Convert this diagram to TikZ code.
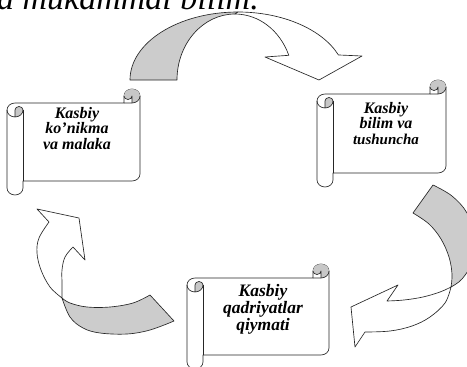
\documentclass[tikz,border=0pt]{standalone}
\usepackage{fontspec}
\setmainfont{Liberation Serif}
\tikzset{
  ln/.style={draw=black!85, line width=0.65pt, line join=round},
  greyband/.style={ln, fill=black!20},
  whiteband/.style={ln, fill=white},
  scrolltext/.style={inner sep=0pt, align=center, anchor=north, font=\bfseries\itshape\fontsize{16}{15.5}\selectfont},
}
% scroll: #1 x0, #2 y0, #3 width, #4 height
\newcommand\myscroll[4]{%
\begin{scope}[shift={(#1,#2)}]
  \pgfmathsetmacro\W{#3}\pgfmathsetmacro\H{#4}
  \path[ln, fill=white] (0,21) arc[start angle=180,end angle=270,x radius=8,y radius=7]
     -- (\W-16,14) -- (\W-16,7) arc[start angle=180,end angle=360,x radius=8,y radius=7]
     -- (\W,\H-21) arc[start angle=0,end angle=90,x radius=8,y radius=7]
     -- (16,\H-14) -- (16,\H-7) arc[start angle=0,end angle=180,x radius=8,y radius=7] -- cycle;
  \fill[black!22] (8,28) arc[start angle=90,end angle=0,x radius=8,y radius=7]
     arc[start angle=0,end angle=-180,x radius=4,y radius=3.5] -- cycle;
  \fill[black!22] (\W-8,14) arc[start angle=90,end angle=-180,x radius=8,y radius=7]
     arc[start angle=180,end angle=0,x radius=4,y radius=3.5] -- cycle;
  \draw[ln] (\W-16,14) -- (\W-8,14) arc[start angle=90,end angle=0,x radius=8,y radius=7];
  \draw[ln] (\W-8,14) -- (\W-8,7) arc[start angle=0,end angle=180,x radius=4,y radius=3.5];
  \draw[ln] (8,28) -- (8,21) arc[start angle=180,end angle=360,x radius=4,y radius=3.5]
     arc[start angle=0,end angle=180,x radius=8,y radius=7];
  \draw[ln] (16,21) -- (16,\H-14);
\end{scope}}
\begin{document}
\begin{tikzpicture}[x=1pt,y=-1pt]
\useasboundingbox (0,0) rectangle (467,367);
\clip (0,0) rectangle (467,367);
\fill[white] (0,0) rectangle (467,367);

% cut-off heading (cropped at the top edge, as in the reference)
\node[inner sep=0pt, anchor=base west, font=\itshape\fontsize{34}{34}\selectfont] (head) at (-3,9) {a mukammal bilim.};

% scrolls
\myscroll{7}{89}{133}{106}
\myscroll{317}{80}{129}{107}
\myscroll{187}{264}{142}{105}

\node[scrolltext] (sL) at (77,107) {Kasbiy\\ko’nikma\\va malaka};
\node[scrolltext] (sR) at (386,102) {Kasbiy\\bilim va\\{\fontsize{15}{15.5}\selectfont tushuncha}};
\node[scrolltext, font=\bfseries\itshape\fontsize{17.5}{17}\selectfont] (sB) at (263,284) {Kasbiy\\qadriyatlar\\qiymati};

% top arrow
\path[greyband] (130,80) arc[start angle=180,end angle=270,x radius=108,y radius=68]
   -- (235,14) arc[start angle=270,end angle=180,x radius=58,y radius=66] -- cycle;
\path[whiteband] (238,12) arc[start angle=270,end angle=338.4,x radius=108,y radius=68]
   -- (362,56) -- (319,80) -- (265,57) -- (288.8,55.3)
   arc[start angle=338,end angle=270,x radius=58,y radius=66] -- cycle;

% right arrow
\path[greyband] (413,213) -- (433,185)
   -- plot[smooth,tension=0.6] coordinates {(433,185) (452,196) (467,213) (474,236) (472,262) (462,279) (451,287)}
   -- plot[smooth,tension=0.6] coordinates {(451,287) (452,274) (449,257) (441,239) (429,224) (413,213)} -- cycle;
\path[whiteband] (451,287)
   -- plot[smooth,tension=0.6] coordinates {(451,287) (445,303) (430,317) (412,326) (390,331) (365,332)}
   -- (355,347) -- (351,307) -- (398,285) -- (387,301)
   -- plot[smooth,tension=0.6] coordinates {(387,301) (404,300) (423,297) (440,292) (451,287)} -- cycle;

% left arrow
\path[greyband] (150,295) -- (174,321)
   -- plot[smooth,tension=0.6] coordinates {(174,321) (150,330) (127,334) (100,333) (83,328) (70,317) (62,298)}
   -- plot[smooth,tension=0.6] coordinates {(62,298) (70,303) (87,307) (110,307) (133,303) (150,295)} -- cycle;
\path[whiteband] (62,298)
   -- plot[smooth,tension=0.6] coordinates {(62,298) (50,287) (41,270) (37,253) (39,238) (49,222)}
   -- (37,209) -- (79,218) -- (85,260) -- (73,247)
   -- plot[smooth,tension=0.6] coordinates {(73,247) (65,257) (62,270) (62,283) (62,298)} -- cycle;
\end{tikzpicture}
\end{document}
